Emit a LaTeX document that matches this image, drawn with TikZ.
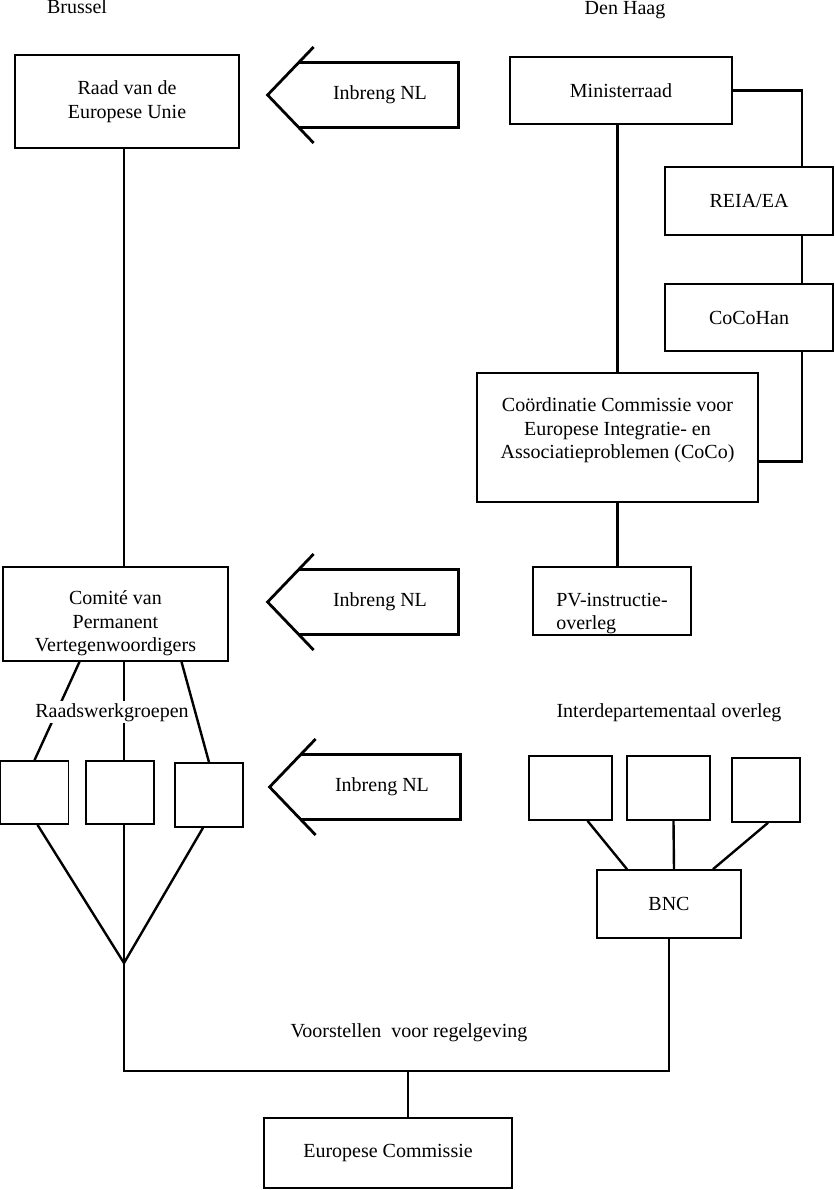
\documentclass[tikz,border=0pt]{standalone}
\usepackage{fontspec}
\setmainfont{Liberation Serif}
\usetikzlibrary{calc,positioning}

\begin{document}
\begin{tikzpicture}[x=0.5pt,y=-0.5pt,
  doos/.style={draw,line width=0.8pt,align=center,inner sep=0pt,font=\fontsize{10}{11.75}\selectfont},
  inbreng/.style={minimum width=78pt,minimum height=32pt,inner sep=0pt,font=\fontsize{10}{11.75}\selectfont},
  lijn/.style={line width=1.2pt},
  pijl/.style={line width=1.4pt},
  kop/.style={anchor=base,inner sep=1pt,font=\fontsize{10}{11.75}\selectfont}]
  \useasboundingbox (0,0) rectangle (835,1190);

  \node[kop] (brussel) at (77,13) {Brussel};
  \node[kop] (denhaag) at (625,14) {Den Haag};

  \node[doos,minimum width=112pt,minimum height=46.5pt] (raad) at (127,101.5) {Raad van de\\Europese Unie};
  \node[doos,minimum width=112.5pt,minimum height=47pt,text height=40pt] (comite) at (115.5,614) {Comit\'e van\\Permanent\\Vertegenwoordigers};
  \node[doos,minimum width=34pt,minimum height=31.5pt] (wg1) at (34.5,792.5) {};
  \node[doos,minimum width=34pt,minimum height=31.5pt] (wg2) at (120,792.5) {};
  \node[doos,minimum width=34pt,minimum height=32pt] (wg3) at (209,795) {};

  \node[inbreng] (in1) at (380,95) {Inbreng NL};
  \node[inbreng] (in2) at (380,602) {Inbreng NL};
  \node[inbreng] (in3) at (382,787) {Inbreng NL};

  \node[doos,minimum width=111pt,minimum height=33.5pt] (minister) at (621,90.5) {Ministerraad};
  \node[doos,minimum width=84pt,minimum height=34pt] (reia) at (749,201) {REIA/EA};
  \node[doos,minimum width=84pt,minimum height=33.5pt] (cocohan) at (749,317.5) {CoCoHan};
  \node[doos,minimum width=140.5pt,minimum height=64.5pt,text depth=9pt] (coco) at (617.5,437.5) {Co\"ordinatie Commissie voor\\Europese Integratie- en\\Associatieproblemen (CoCo)};
  \node[doos,align=left,minimum width=79pt,minimum height=34pt,text height=31pt] (pv) at (612,601) {PV-instructie-\\overleg};

  \node[kop] (interdep) at (669,717) {Interdepartementaal overleg};
  \node[doos,minimum width=41.5pt,minimum height=32pt] (id1) at (570.5,788) {};
  \node[doos,minimum width=41.5pt,minimum height=32pt] (id2) at (668.5,788) {};
  \node[doos,minimum width=34pt,minimum height=32pt] (id3) at (766,790) {};
  \node[doos,minimum width=72pt,minimum height=34pt] (bnc) at (669,904) {BNC};

  \node[doos,minimum width=124pt,minimum height=35pt] (ec) at (388,1153) {Europese Commissie};
  \node[kop] (voorstellen) at (409,1037) {Voorstellen\ \ voor regelgeving};

  \coordinate (spil) at (124,963);
  \coordinate (hoek) at (124,1071);
  \coordinate (rechts) at (802,0);

  \foreach \n in {in1,in2,in3} {
    \draw[pijl] ($(\n.west)+(12,-48)$) -- ($(\n.west)+(-34,0)$) -- ($(\n.west)+(12,48)$);
    \draw[pijl] ($(\n.north west)+(-3,0)$) -- (\n.north east) -- (\n.south east) -- ($(\n.south west)+(-3,0)$);
  }

  \draw[lijn] (raad.south -| spil) -- (comite.north -| spil);
  \draw[lijn] ($(comite.south)+(-36,0)$) -- (wg1.north);
  \draw[lijn] (comite.south -| spil) -- (wg2.north -| spil);
  \draw[lijn] ($(comite.south)+(66,0)$) -- (wg3.north);
  \node[kop,fill=white] (werkgroepen) at (112,717) {Raadswerkgroepen};
  \draw[lijn] ($(wg1.south)+(3,0)$) -- (spil);
  \draw[lijn] (wg2.south -| spil) -- (spil);
  \draw[lijn] ($(wg3.south)+(-6,0)$) -- (spil);
  \draw[lijn] (spil) |- (bnc.south |- hoek) -- (bnc.south);
  \draw[lijn] ($(ec.north)+(20,0)$) -- ($(ec.north |- hoek)+(20,0)$);

  \draw[lijn] (coco.north |- minister.south) -- (coco.north);
  \draw[lijn] (minister.east) -| (reia.north -| rechts);
  \draw[lijn] (reia.south -| rechts) -- (cocohan.north -| rechts);
  \draw[lijn] (cocohan.south -| rechts) |- ($(coco.east)+(0,24)$);
  \draw[lijn] (coco.south) -- (coco.south |- pv.north);

  \draw[lijn] ($(id1.south)+(17,0)$) -- ($(bnc.north)+(-42,0)$);
  \draw[lijn] ($(id2.south)+(5,0)$) -- ($(bnc.north)+(5,0)$);
  \draw[lijn] ($(id3.south)+(2,0)$) -- ($(bnc.north)+(44,0)$);
\end{tikzpicture}
\end{document}
